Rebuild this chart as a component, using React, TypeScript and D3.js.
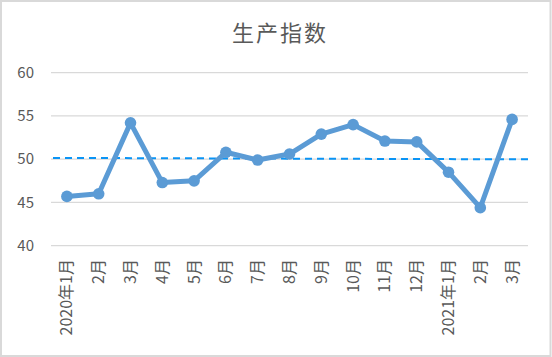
import React from "react";
import * as d3 from "d3";

const categories = ["2020年1月", "2月", "3月", "4月", "5月", "6月", "7月", "8月", "9月", "10月", "11月", "12月", "2021年1月", "2月", "3月"];
const values = [45.7, 46.0, 54.2, 47.3, 47.5, 50.8, 49.9, 50.6, 52.9, 54.0, 52.1, 52.0, 48.5, 44.4, 54.6];
const trendEnds = [50.15, 49.98];
const yTicks = [40, 45, 50, 55, 60];
const title = "生产指数";

const W = 552, H = 357;
const M = { left: 51, right: 528, top: 72.7, bottom: 245.7 };

export default function App() {
  const x = d3.scaleBand<number>().domain(d3.range(categories.length)).range([M.left, M.right]);
  const y = d3.scaleLinear().domain([40, 60]).range([M.bottom, M.top]);
  const cx = (i: number) => (x(i) as number) + x.bandwidth() / 2;
  const line = d3.line<number>().x((_, i) => cx(i)).y((d) => y(d));
  const font = "'Noto Sans CJK SC', 'Noto Sans', sans-serif";
  const textColor = "#595959";
  return (
    <svg width={W} height={H} style={{ position: "absolute", left: 0, top: 0, background: "#fff" }} fontFamily={font}>
      <rect x={1} y={1} width={W - 2.5} height={H - 2} fill="#fff" stroke="#d9d9d9" strokeWidth={2} />
      <text x={280} y={41} textAnchor="middle" fontSize={22} fill={textColor} letterSpacing={2}>{title}</text>
      {yTicks.map((t) => (
        <g key={t}>
          <line x1={M.left} x2={M.right} y1={y(t)} y2={y(t)} stroke="#d9d9d9" strokeWidth={1.3} />
          <text x={34} y={y(t)} dy="0.35em" textAnchor="end" fontSize={15} fill={textColor}>{t}</text>
        </g>
      ))}
      <line x1={M.left + 2} x2={M.right + 3} y1={y(trendEnds[0])} y2={y(trendEnds[1])} stroke="#0a94f5" strokeWidth={2} strokeDasharray="7,5" />
      <path d={line(values) || ""} fill="none" stroke="#5b9bd5" strokeWidth={5} strokeLinejoin="round" />
      {values.map((v, i) => (
        <circle key={i} cx={cx(i)} cy={y(v)} r={5.8} fill="#5b9bd5" />
      ))}
      {categories.map((c, i) => (
        <text key={i} transform={`translate(${cx(i) + 5.5},${259}) rotate(-90)`} textAnchor="end" fontSize={16} fill={textColor}>{c}</text>
      ))}
    </svg>
  );
}
